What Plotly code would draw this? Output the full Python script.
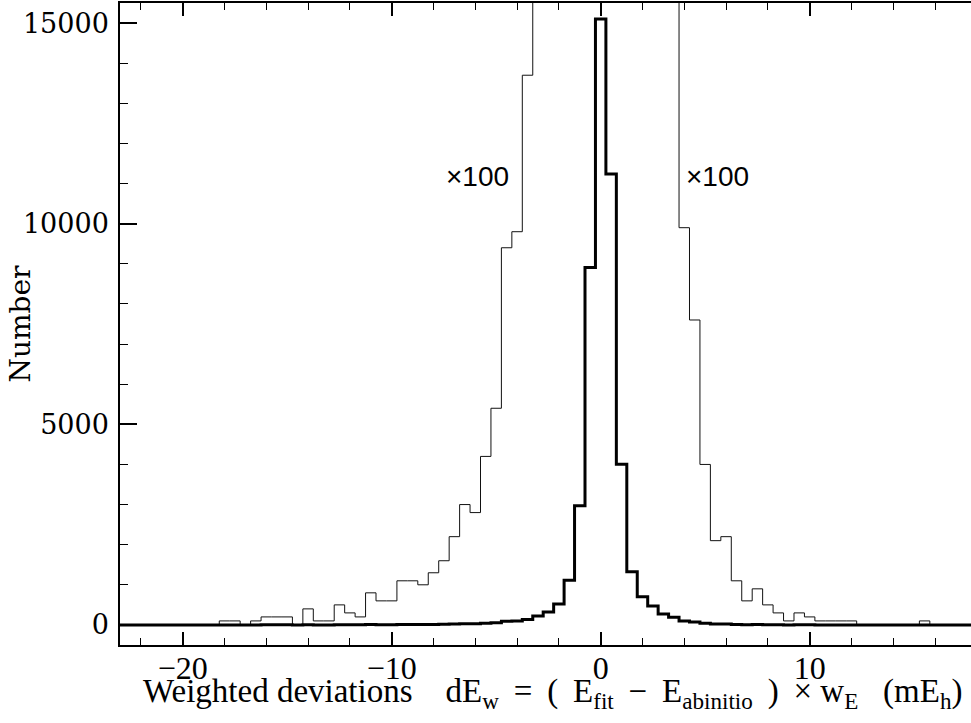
import numpy as np
import plotly.graph_objects as go

# Histogram of weighted deviations (bin width 0.5 mEh), counts per bin
bin_width = 0.5
bin_centers = [-18.0, -17.5, -17.0, -16.5, -16.0, -15.5, -15.0, -14.5, -14.0, -13.5,
               -13.0, -12.5, -12.0, -11.5, -11.0, -10.5, -10.0, -9.5, -9.0, -8.5,
               -8.0, -7.5, -7.0, -6.5, -6.0, -5.5, -5.0, -4.5, -4.0, -3.5,
               -3.0, -2.5, -2.0, -1.5, -1.0, -0.5, 0.0, 0.5, 1.0, 1.5,
               2.0, 2.5, 3.0, 3.5, 4.0, 4.5, 5.0, 5.5, 6.0, 6.5,
               7.0, 7.5, 8.0, 8.5, 9.0, 9.5, 10.0, 10.5, 11.0, 11.5,
               12.0, 12.5, 13.0, 13.5, 14.0, 14.5, 15.0, 15.5]
counts = [1, 1, 0, 1, 2, 2, 2, 0, 4, 1,
          1, 5, 3, 2, 8, 6, 6, 11, 11, 10,
          13, 16, 22, 30, 28, 42, 54, 94, 98, 137,
          224, 324, 523, 1113, 2973, 8911, 15100, 11236, 4003, 1328,
          705, 473, 274, 191, 99, 76, 40, 21, 22, 11,
          6, 9, 5, 3, 1, 3, 2, 1, 1, 1,
          1, 0, 0, 0, 0, 0, 0, 1]
scale_factor = 100  # the thin curve is the same histogram magnified x100

x_range = [-23.0, 17.72]
y_range = [-500, 15500]

# Build full bin grid covering the axis range (empty bins = 0)
all_centers = np.arange(-23.5, 18.51, bin_width)
all_counts = np.zeros_like(all_centers)
for c, n in zip(bin_centers, counts):
    idx = int(round((c - all_centers[0]) / bin_width))
    all_counts[idx] = n
edges = np.append(all_centers - bin_width / 2, all_centers[-1] + bin_width / 2)
step_y = np.append(all_counts, all_counts[-1])

fig = go.Figure()
fig.add_trace(go.Scatter(x=edges, y=step_y * scale_factor, mode="lines",
                         line=dict(shape="hv", color="#111111", width=1),
                         hoverinfo="skip", showlegend=False))
fig.add_trace(go.Scatter(x=edges, y=step_y, mode="lines",
                         line=dict(shape="hv", color="black", width=3),
                         hoverinfo="skip", showlegend=False))

fig.add_annotation(x=-4.29, y=11180, xref="x", yref="y", text="\u00d7100",
                   showarrow=False, xanchor="right", yanchor="middle",
                   font=dict(family="Liberation Sans", size=28, color="black"))
fig.add_annotation(x=3.99, y=11180, xref="x", yref="y", text="\u00d7100",
                   showarrow=False, xanchor="left", yanchor="middle",
                   font=dict(family="Liberation Sans", size=28, color="black"))

nb = "\u00a0"
gap = "\u00a0\u2009"
xtitle = ("Weighted deviations" + nb * 4 + "dE<sub>w</sub>" + gap + "=" + gap + "(" + gap
          + "E<sub>fit</sub>" + gap + "\u2212" + gap + "E<sub>abinitio</sub>" + gap + ")"
          + gap + "\u00d7" + nb + "w<sub>E</sub>" + nb * 3 + "(mE<sub>h</sub>)")
fig.add_annotation(x=0.508, y=-0.111, xref="paper", yref="paper", text=xtitle,
                   showarrow=False, xanchor="center", yanchor="bottom",
                   font=dict(family="Liberation Serif", size=33, color="black"))
fig.add_annotation(x=-0.118, y=0.5, xref="paper", yref="paper", text="Number",
                   textangle=-90, showarrow=False, xanchor="center", yanchor="middle",
                   font=dict(family="DejaVu Serif", size=28, color="black"))

fig.update_layout(
    width=971, height=723,
    margin=dict(l=120, r=0, t=3, b=78),
    paper_bgcolor="white", plot_bgcolor="white",
    xaxis=dict(range=x_range, showgrid=False, zeroline=False,
               showline=True, linecolor="black", linewidth=1.5, mirror="ticks",
               ticks="inside", ticklen=13, tickwidth=1.5, tickcolor="black",
               tickmode="array", tickvals=[-20, -10, 0, 10],
               ticktext=["\u221220", "\u221210", "0", "10"],
               minor=dict(tickmode="linear", tick0=0, dtick=2, ticks="inside",
                          ticklen=7, tickwidth=1.2, tickcolor="black"),
               tickfont=dict(family="Liberation Serif", size=32, color="black"),
               ticklabelstandoff=-6),
    yaxis=dict(range=y_range, showgrid=False, zeroline=False,
               showline=True, linecolor="black", linewidth=1.5, mirror=False,
               ticks="inside", ticklen=17, tickwidth=1.5, tickcolor="black",
               tickmode="array", tickvals=[0, 5000, 10000, 15000],
               ticktext=["0", "5000", "10000", "15000"],
               minor=dict(tickmode="linear", tick0=0, dtick=1000, ticks="inside",
                          ticklen=8, tickwidth=1.2, tickcolor="black"),
               tickfont=dict(family="DejaVu Serif", size=27, color="black"),
               ticklabelstandoff=4),
    yaxis2=dict(range=y_range, overlaying="y", side="right", anchor="x",
                showgrid=False, zeroline=False, showline=False,
                showticklabels=False,
                ticks="inside", ticklen=10, tickwidth=1.5, tickcolor="black",
                tickmode="array", tickvals=[0, 5000, 10000, 15000],
                minor=dict(tickmode="linear", tick0=0, dtick=1000, ticks="inside",
                           ticklen=1, tickwidth=1.2, tickcolor="black")),
)

fig.write_html("out.html", config={"displayModeBar": False},
               post_script="document.body.style.margin='0';document.body.style.overflow='hidden';")
